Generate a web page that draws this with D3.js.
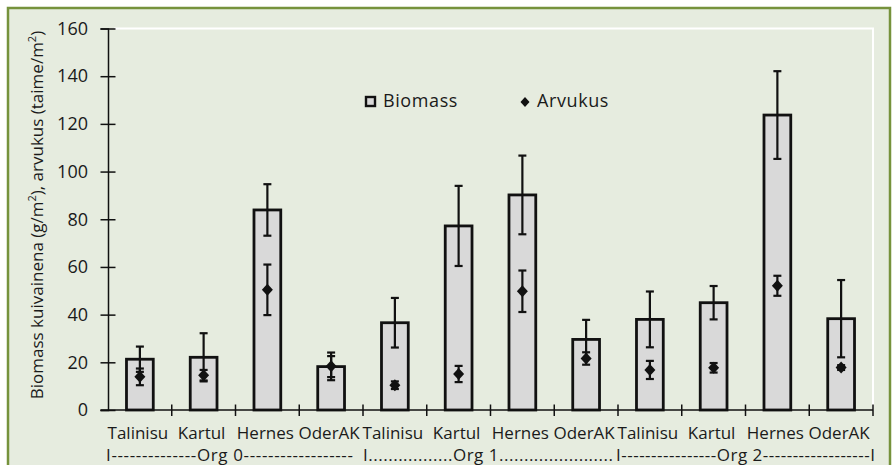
<!DOCTYPE html>
<html>
<head>
<meta charset="utf-8">
<script src="https://cdn.jsdelivr.net/npm/d3@7/dist/d3.min.js"></script>
<style>
  body { margin: 0; background: #fff; }
  svg text { font-family: "Open Sans", Lato, sans-serif; fill: #1a1a1a; }
</style>
</head>
<body>
<div class="chart"></div>
<script>
// data
const crops = ['Talinisu', 'Kartul', 'Hernes', 'OderAK'];
const groups = ['Org 0', 'Org 1', 'Org 2'];
const categories = groups.flatMap(() => crops);
const biomass    = [21.3, 22.1, 83.9, 18.2, 36.6, 77.2, 90.2, 29.6, 38.0, 45.0, 123.7, 38.3];
const biomassErr = [5.3, 10.1, 10.8, 4.4, 10.4, 16.8, 16.5, 8.2, 11.7, 7.0, 18.4, 16.2];
const arvukus    = [13.9, 14.6, 50.4, 18.3, 10.4, 15.1, 49.8, 21.6, 16.8, 17.7, 52.1, 17.8];
const arvukusErr = [3.5, 2.2, 10.6, 5.8, 1.6, 3.4, 8.7, 2.6, 3.8, 2.0, 4.2, 1.0];
const yTicks = [0, 20, 40, 60, 80, 100, 120, 140, 160];
const groupLines = [
  'I--------------Org 0------------------ ',
  'I.................Org 1.......................',
  'I----------------Org 2------------------I'
];

const width = 895, height = 465;
const plot = { left: 108, right: 873, top: 28.5, bottom: 410 };

const svg = d3.select('.chart').append('svg')
  .attr('width', width)
  .attr('height', height);

// background + frame
svg.append('rect')
  .attr('x', 8).attr('y', 8)
  .attr('width', 882).attr('height', 470)
  .attr('fill', '#e6ecdf')
  .attr('stroke', '#76923c')
  .attr('stroke-width', 2.5);

const x = d3.scaleBand()
  .domain(d3.range(categories.length))
  .range([plot.left, plot.right])
  .padding(0);

const y = d3.scaleLinear()
  .domain([0, 160])
  .range([plot.bottom, plot.top]);

const barW = x.bandwidth() * 0.42;
const cx = (i) => x(i) + x.bandwidth() / 2;

// white plot outline (top + right)
svg.append('path')
  .attr('d', `M${plot.left + 6},${y(160)}H${plot.right}V${plot.bottom}`)
  .attr('fill', 'none')
  .attr('stroke', '#fff')
  .attr('stroke-width', 2);

// bars
svg.append('g').selectAll('rect')
  .data(biomass)
  .join('rect')
    .attr('x', (d, i) => cx(i) - barW / 2)
    .attr('y', (d) => y(d))
    .attr('width', barW)
    .attr('height', (d) => y(0) - y(d))
    .attr('fill', '#d9d9d9')
    .attr('stroke', '#111')
    .attr('stroke-width', 2.8);

// error bars helper
const errBars = (vals, errs) => {
  const g = svg.append('g').attr('stroke', '#111').attr('stroke-width', 2.2);
  vals.forEach((v, i) => {
    const c = cx(i), lo = y(v - errs[i]), hi = y(v + errs[i]);
    g.append('line').attr('x1', c).attr('x2', c).attr('y1', lo).attr('y2', hi);
    g.append('line').attr('x1', c - 4).attr('x2', c + 4).attr('y1', lo).attr('y2', lo);
    g.append('line').attr('x1', c - 4).attr('x2', c + 4).attr('y1', hi).attr('y2', hi);
  });
};
errBars(biomass, biomassErr);
errBars(arvukus, arvukusErr);

// arvukus diamonds
const diamond = 'M0,-6L5.5,0L0,6L-5.5,0Z';
svg.append('g').selectAll('path')
  .data(arvukus)
  .join('path')
    .attr('d', diamond)
    .attr('transform', (d, i) => `translate(${cx(i)},${y(d)})`)
    .attr('fill', '#111');

// y axis
const yAxis = svg.append('g')
  .attr('transform', `translate(${plot.left},0)`)
  .call(d3.axisLeft(y).tickValues(yTicks).tickSize(7.5).tickPadding(12.5));
yAxis.select('.domain').attr('stroke', '#111').attr('stroke-width', 1.5);
yAxis.selectAll('.tick line').attr('x1', 7.5).attr('stroke', '#111').attr('stroke-width', 1.5);
yAxis.selectAll('.tick text')
  .attr('font-size', 18)
  .style('font-family', '"Open Sans", sans-serif')
  .attr('fill', '#1a1a1a');

// x axis line + boundary ticks
const xg = svg.append('g').attr('stroke', '#111').attr('stroke-width', 1.5);
xg.append('line')
  .attr('x1', plot.left - 7.5).attr('x2', plot.right)
  .attr('y1', y(0)).attr('y2', y(0));
xg.selectAll('line.tick')
  .data(d3.range(1, categories.length + 1))
  .join('line').attr('class', 'tick')
    .attr('x1', (i) => i < categories.length ? x(i) : plot.right)
    .attr('x2', (i) => i < categories.length ? x(i) : plot.right)
    .attr('y1', y(0) - 5.5).attr('y2', y(0) + 6);

// category labels
svg.append('g').selectAll('text')
  .data(categories)
  .join('text')
    .attr('x', (d, i) => cx(i) - 2)
    .attr('y', 439)
    .attr('text-anchor', 'middle')
    .attr('font-size', 17)
    .text((d) => d);

// group row
const groupSpans = [[106, 358], [363, 613], [616, 875]];
svg.append('g').selectAll('text')
  .data(groupLines)
  .join('text')
    .attr('x', (d, i) => groupSpans[i][0])
    .attr('y', 461)
    .attr('font-size', 17)
    .attr('textLength', (d, i) => groupSpans[i][1] - groupSpans[i][0])
    .attr('lengthAdjust', 'spacing')
    .style('white-space', 'pre')
    .text((d) => d);

// y axis title
const yt = svg.append('text')
  .attr('transform', 'translate(43,215) rotate(-90)')
  .attr('text-anchor', 'middle')
  .attr('font-size', 17);
yt.append('tspan').text('Biomass kuivainena (g/m');
yt.append('tspan').attr('baseline-shift', 'super').attr('font-size', 11).text('2');
yt.append('tspan').text('), arvukus (taime/m');
yt.append('tspan').attr('baseline-shift', 'super').attr('font-size', 11).text('2');
yt.append('tspan').text(')');

// legend
const legend = svg.append('g');
legend.append('rect')
  .attr('x', 366).attr('y', 97)
  .attr('width', 9).attr('height', 9)
  .attr('fill', '#d9d9d9')
  .attr('stroke', '#111')
  .attr('stroke-width', 2.4);
legend.append('text').attr('x', 383).attr('y', 107).attr('font-size', 18)
  .attr('letter-spacing', 0.6).text('Biomass');
legend.append('path')
  .attr('d', 'M0,-5L4.5,0L0,5L-4.5,0Z')
  .attr('transform', 'translate(525,102)')
  .attr('fill', '#111');
legend.append('text').attr('x', 537).attr('y', 107).attr('font-size', 18)
  .attr('letter-spacing', 0.6).text('Arvukus');
</script>
</body>
</html>
